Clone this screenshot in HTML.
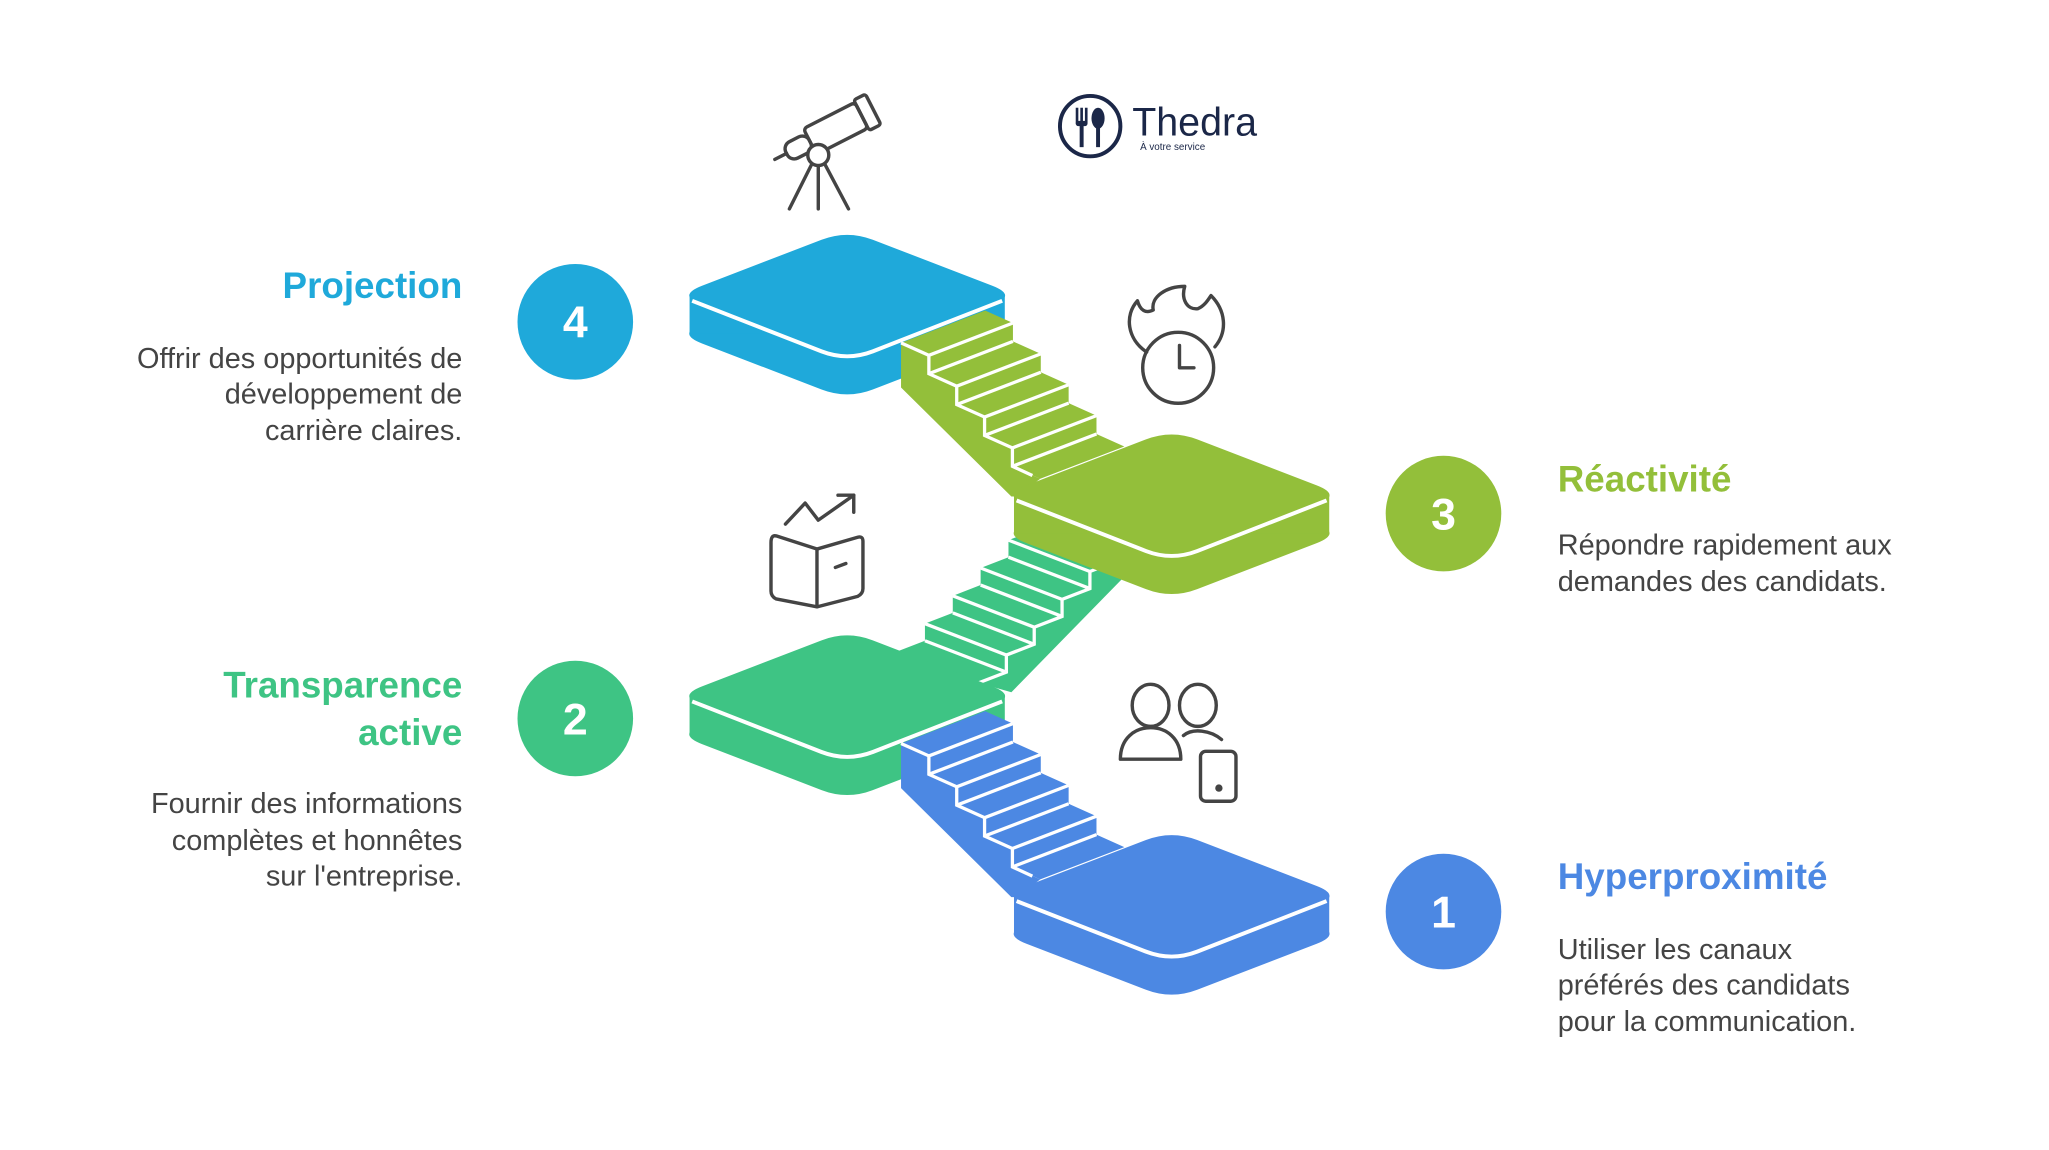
<!DOCTYPE html>
<html><head><meta charset="utf-8"><style>
html,body{margin:0;padding:0;background:#fff;}
svg{display:block}
text{font-family:"Liberation Sans",Arial,sans-serif}
</style></head><body>
<svg width="2049" height="1150" viewBox="0 0 1560 875.5" xmlns="http://www.w3.org/2000/svg">
<defs>
<path id="top" d="M -110.5,-7.5 L -19.5,-42.5 Q 0,-50 19.5,-42.5 L 110.5,-7.5 Q 130,0 110.5,7.5 L 19.5,42.5 Q 0,50 -19.5,42.5 L -110.5,7.5 Q -130,0 -110.5,-7.5 Z"/>
<g id="plat">
<use href="#top" transform="translate(0,29)"/>
<rect x="-120" y="0" width="240" height="29"/>
<use href="#top"/>
<path d="M -118,4 L -19.5,42.5 Q 0,50 19.5,42.5 L 118,4" fill="none" stroke="#fff" stroke-width="3"/>
</g>
<g id="stairA">
<polygon points="0,0 21.2,9.5 21.2,23.5 42.4,33 42.4,47 63.6,56.5 63.6,70.5 84.8,80 84.8,94 106,103.5 170,78.9 148.8,69.4 148.8,55.4 127.6,45.9 127.6,31.9 106.4,22.4 106.4,8.4 85.2,-1.1 85.2,-15.1 64,-24.6"/>
<polygon points="0,0 21.2,9.5 21.2,23.5 42.4,33 42.4,47 63.6,56.5 63.6,70.5 84.8,80 84.8,94 106,103.5 88,117 84,117 0,34"/>
<g stroke="#fff" stroke-width="2.5" fill="none">
<polyline points="0,0 21.2,9.5 21.2,23.5 42.4,33 42.4,47 63.6,56.5 63.6,70.5 84.8,80 84.8,94 100,101"/>
<line x1="21.2" y1="9.5" x2="85.2" y2="-15.1"/>
<line x1="21.2" y1="23.5" x2="85.2" y2="-1.1"/>
<line x1="42.4" y1="33" x2="106.4" y2="8.4"/>
<line x1="42.4" y1="47" x2="106.4" y2="22.4"/>
<line x1="63.6" y1="56.5" x2="127.6" y2="31.9"/>
<line x1="63.6" y1="70.5" x2="127.6" y2="45.9"/>
<line x1="84.8" y1="80" x2="148.8" y2="55.4"/>
<line x1="84.8" y1="94" x2="148.8" y2="69.4"/>
</g>
</g>
</defs>

<g fill="#1fa9da" transform="translate(645,225)"><use href="#plat"/></g>
<g fill="#93bf3a" transform="translate(686,261)"><use href="#stairA"/></g>
<g fill="#3ec484" transform="translate(683,496)">
<polygon points="0,0 21.2,-8.2 21.2,-21.2 42.4,-29.4 42.4,-42.4 63.6,-50.6 63.6,-63.6 84.8,-71.8 84.8,-84.8 106,-93 106,-106 168,-82.1 168,-69.1 146.8,-60.9 146.8,-47.9 125.6,-39.7 125.6,-26.7 104.4,-18.5 104.4,-5.5 83.2,2.7 83.2,15.7 62,23.9"/>
<polygon points="62,23.9 83.2,15.7 83.2,2.7 104.4,-5.5 104.4,-18.5 125.6,-26.7 125.6,-39.7 146.8,-47.9 146.8,-60.9 168,-69.1 168,-82.1 172,-82 172,-56 87,31"/>
<g stroke="#fff" stroke-width="2.5" fill="none">
<polyline points="62,23.9 83.2,15.7 83.2,2.7 104.4,-5.5 104.4,-18.5 125.6,-26.7 125.6,-39.7 146.8,-47.9 146.8,-60.9 168,-69.1 168,-82.1"/>
<line x1="21.2" y1="-8.2" x2="83.2" y2="15.7"/>
<line x1="21.2" y1="-21.2" x2="83.2" y2="2.7"/>
<line x1="42.4" y1="-29.4" x2="104.4" y2="-5.5"/>
<line x1="42.4" y1="-42.4" x2="104.4" y2="-18.5"/>
<line x1="63.6" y1="-50.6" x2="125.6" y2="-26.7"/>
<line x1="63.6" y1="-63.6" x2="125.6" y2="-39.7"/>
<line x1="84.8" y1="-71.8" x2="146.8" y2="-47.9"/>
<line x1="84.8" y1="-84.8" x2="146.8" y2="-60.9"/>
<line x1="106" y1="-93" x2="168" y2="-69.1"/>
</g>
</g>
<g fill="#93bf3a" transform="translate(892,377)"><use href="#plat"/></g>
<g fill="#3ec484" transform="translate(645,530)"><use href="#plat"/></g>
<g fill="#4c88e3" transform="translate(686,566)"><use href="#stairA"/></g>
<g fill="#4c88e3" transform="translate(892,682)"><use href="#plat"/></g>

<g font-weight="bold" font-size="34" fill="#fff" text-anchor="middle">
<circle cx="438" cy="245" r="44" fill="#1fa9da"/><text x="438" y="257">4</text>
<circle cx="1099" cy="391" r="44" fill="#93bf3a"/><text x="1099" y="403">3</text>
<circle cx="438" cy="547" r="44" fill="#3ec484"/><text x="438" y="559">2</text>
<circle cx="1099" cy="694" r="44" fill="#4c88e3"/><text x="1099" y="706">1</text>
</g>

<g text-anchor="end">
<text x="352" y="227" font-size="28" font-weight="bold" fill="#1fa9da">Projection</text>
<g font-size="22" fill="#444">
<text x="352" y="280">Offrir des opportunités de</text>
<text x="352" y="307">développement de</text>
<text x="352" y="335">carrière claires.</text>
</g>
<text x="352" y="531" font-size="28" font-weight="bold" fill="#3ec484">Transparence</text>
<text x="352" y="567" font-size="28" font-weight="bold" fill="#3ec484">active</text>
<g font-size="22" fill="#444">
<text x="352" y="619">Fournir des informations</text>
<text x="352" y="647">complètes et honnêtes</text>
<text x="352" y="674">sur l'entreprise.</text>
</g>
</g>
<text x="1186" y="374" font-size="28" font-weight="bold" fill="#93bf3a">Réactivité</text>
<g font-size="22" fill="#444">
<text x="1186" y="422">Répondre rapidement aux</text>
<text x="1186" y="450">demandes des candidats.</text>
</g>
<text x="1186" y="677" font-size="28" font-weight="bold" fill="#4c88e3">Hyperproximité</text>
<g font-size="22" fill="#444">
<text x="1186" y="730">Utiliser les canaux</text>
<text x="1186" y="757">préférés des candidats</text>
<text x="1186" y="785">pour la communication.</text>
</g>

<circle cx="830" cy="96" r="23" fill="none" stroke="#1b2748" stroke-width="3"/>
<g fill="#1b2748">
<rect x="819" y="82" width="2" height="12"/><rect x="822.5" y="82" width="2" height="12"/><rect x="826" y="82" width="2" height="12"/>
<rect x="819" y="92" width="9" height="4" rx="2"/><rect x="822" y="94" width="3" height="18"/>
<ellipse cx="836" cy="90" rx="5" ry="8"/><rect x="834.5" y="95" width="3" height="17"/>
</g>
<text x="862" y="103" font-size="30" fill="#1b2748">Thedra</text>
<text x="868" y="114" font-size="7.5" fill="#1b2748">À votre service</text>

<g fill="none" stroke="#444" stroke-width="2.6" stroke-linecap="round" stroke-linejoin="round">
<g transform="translate(622,105) rotate(-27)">
<rect x="-6" y="-11" width="44" height="22" rx="3"/>
<rect x="38" y="-13" width="10" height="26" rx="2"/>
<rect x="-26" y="-7" width="20" height="14" rx="6"/>
<line x1="-26" y1="0" x2="-36" y2="0"/>
</g>
<circle cx="623" cy="118" r="8" fill="#fff"/>
<line x1="618" y1="125" x2="601" y2="159"/>
<line x1="623" y1="126" x2="623" y2="159"/>
<line x1="628" y1="125" x2="646" y2="159"/>
<path d="M873,268 C858,258 856,240 866,229 C868,236 872,239 878,236 C876,226 888,218 902,218 C899,228 904,236 912,235 C917,233 920,228 922,225 C933,236 935,252 925,264"/>
<circle cx="897" cy="280" r="27"/>
<polyline points="898,263 898,280 909,280"/>
<path d="M587,413 L587,450 Q587,454 591,456 L622,462 L653,454 Q657,452 657,448 L657,412 Q657,408 653,409 L622,418 L591,408 Q587,407 587,413 Z"/>
<line x1="622" y1="418" x2="622" y2="462"/>
<line x1="636" y1="432" x2="644" y2="429"/>
<polyline points="598,399 613,383 623,396 650,377"/>
<polyline points="638,377 650,377 650,390"/>
<ellipse cx="876" cy="537" rx="14" ry="16"/>
<ellipse cx="912" cy="537" rx="14" ry="16"/>
<path d="M853,578 C853,562 864,554 876,554 C888,554 899,562 899,578 Z"/>
<path d="M901,560 C908,554 922,556 930,563"/>
<rect x="914" y="572" width="27" height="38" rx="4"/>
<circle cx="928" cy="600" r="1.5" fill="#444"/>
</g>
</svg>
</body></html>
